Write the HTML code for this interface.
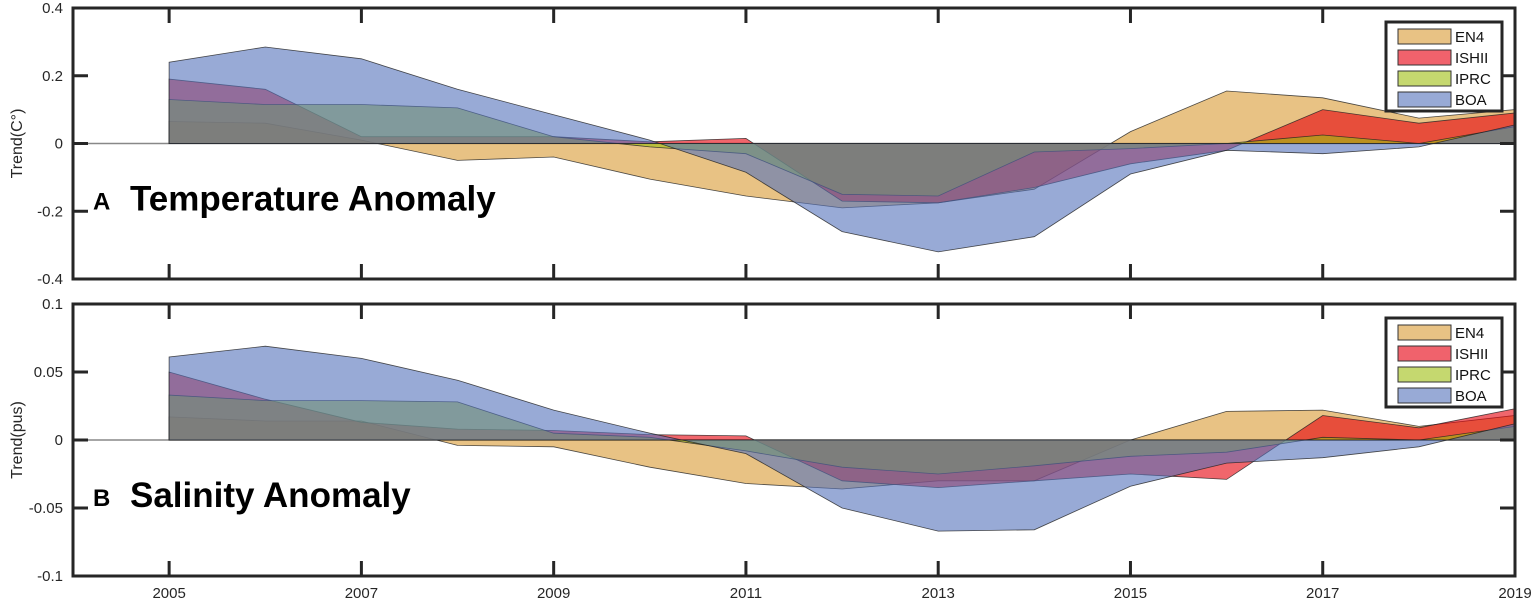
<!DOCTYPE html>
<html><head><meta charset="utf-8">
<style>
html,body{margin:0;padding:0;background:#fff;}
svg{display:block;font-family:"Liberation Sans",Arial,sans-serif;}
</style></head>
<body>
<svg id="chart" width="1535" height="604" viewBox="0 0 1535 604" xmlns="http://www.w3.org/2000/svg"></svg>
<script>
const years = [2005,2006,2007,2008,2009,2010,2011,2012,2013,2014,2015,2016,2017,2018,2019];
const seriesNames = ["EN4","ISHII","IPRC","BOA"];
const tempEN4   = [0.065,0.06,0.01,-0.05,-0.04,-0.105,-0.155,-0.19,-0.175,-0.135,0.035,0.155,0.135,0.075,0.1];
const tempISHII = [0.19,0.16,0.02,0.02,0.02,0.005,0.015,-0.17,-0.175,-0.13,-0.06,-0.02,0.1,0.06,0.09];
const tempIPRC  = [0.13,0.115,0.115,0.105,0.02,-0.01,-0.03,-0.15,-0.155,-0.025,-0.015,0,0.025,0,0.05];
const tempBOA   = [0.24,0.285,0.25,0.16,0.085,0.01,-0.085,-0.26,-0.32,-0.275,-0.09,-0.02,-0.03,-0.01,0.055];
const salEN4   = [0.017,0.014,0.014,-0.004,-0.005,-0.02,-0.032,-0.036,-0.03,-0.03,0.0,0.021,0.022,0.01,0.018];
const salISHII = [0.05,0.03,0.013,0.008,0.007,0.004,0.003,-0.03,-0.035,-0.03,-0.025,-0.029,0.018,0.009,0.023];
const salIPRC  = [0.033,0.029,0.029,0.028,0.005,0.002,-0.008,-0.02,-0.025,-0.019,-0.012,-0.009,0.002,0,0.01];
const salBOA   = [0.061,0.069,0.06,0.044,0.022,0.005,-0.01,-0.05,-0.067,-0.066,-0.034,-0.017,-0.013,-0.005,0.012];
const tempTicks = [0.4,0.2,0,-0.2,-0.4];
const tempTickLabels = ["0.4","0.2","0","-0.2","-0.4"];
const salTicks = [0.1,0.05,0,-0.05,-0.1];
const salTickLabels = ["0.1","0.05","0","-0.05","-0.1"];
const xTicks = [2005,2007,2009,2011,2013,2015,2017,2019];

const NS="http://www.w3.org/2000/svg";
const svg=document.getElementById('chart');
const fills=["rgba(217,153,50,0.6)","rgba(230,0,10,0.6)","rgba(158,190,15,0.6)","rgba(83,113,187,0.6)"];
const legendFills=["#e8c284","#f0626c","#c5d86f","#98aad6"];
const X0=73,X1=1515;
function xs(yr){return X0+(yr-2004)/(2019-2004)*(X1-X0);}
function mk(tag,attrs,parent){const e=document.createElementNS(NS,tag);for(const k in attrs)e.setAttribute(k,attrs[k]);(parent||svg).appendChild(e);return e;}

function panel(id,top,bottom,ymax,data,ticks,tickLabels,ylabel,letter,title,showX){
  const g=mk('g',{});
  
  
  const ys=v=>top+(ymax-v)/(2*ymax)*(bottom-top);
  const y0=ys(0);
  mk('line',{x1:X0,y1:y0,x2:X1,y2:y0,stroke:'#888','stroke-width':1.5},g);
  data.forEach((arr,i)=>{
    let d='M'+xs(years[0])+','+y0;
    arr.forEach((v,j)=>{d+=' L'+xs(years[j]).toFixed(1)+','+ys(v).toFixed(1);});
    d+=' L'+xs(years[years.length-1])+','+y0+' Z';
    const p=mk('path',{d:d,fill:fills[i],stroke:'#222','stroke-width':0.8,'stroke-opacity':0.8},g);
    
    
  });
  mk('rect',{x:X0,y:top,width:X1-X0,height:bottom-top,fill:'none',stroke:'#262626','stroke-width':3},g);
  ticks.forEach((t,i)=>{
    const y=ys(t);
    mk('line',{x1:X0,y1:y,x2:X0+15,y2:y,stroke:'#262626','stroke-width':3},g);
    mk('line',{x1:X1-15,y1:y,x2:X1,y2:y,stroke:'#262626','stroke-width':3},g);
    const tx=mk('text',{x:X0-10,y:y+5,'text-anchor':'end','font-size':15,fill:'#262626'},g);
    tx.textContent=tickLabels[i];
    
    
  });
  xTicks.forEach(t=>{
    const x=xs(t);
    mk('line',{x1:x,y1:bottom,x2:x,y2:bottom-15,stroke:'#262626','stroke-width':3},g);
    mk('line',{x1:x,y1:top,x2:x,y2:top+15,stroke:'#262626','stroke-width':3},g);
    if(showX){
      const tx=mk('text',{x:x,y:bottom+22,'text-anchor':'middle','font-size':15,fill:'#262626'},g);
      tx.textContent=t;
      
      
    }
  });
  const yl=mk('text',{x:0,y:0,transform:'translate(22,'+((top+bottom)/2)+') rotate(-90)','text-anchor':'middle','font-size':16,fill:'#262626'},g);
  yl.textContent=ylabel;
  
  
  const lt=mk('text',{x:93,y:y0+66,'font-size':24,'font-weight':'bold',fill:'#000'},g);
  lt.textContent=letter;
  
  
  const tt=mk('text',{x:130,y:y0+67,'font-size':35,'font-weight':'bold',fill:'#000'},g);
  tt.textContent=title;
  
  
  const lg=mk('g',{},g);
  
  
  const ly=top+14;
  mk('rect',{x:1386,y:ly,width:116,height:89,fill:'#fff',stroke:'#262626','stroke-width':3},lg);
  seriesNames.forEach((n,i)=>{
    const e=mk('g',{},lg);
    
    
    mk('rect',{x:1398,y:ly+7+i*21,width:53,height:15,fill:legendFills[i],stroke:'#333','stroke-width':1},e);
    const t=mk('text',{x:1455,y:ly+20+i*21,'font-size':15,fill:'#111'},e);
    t.textContent=n;
  });
}
panel('temperature-panel',8,279,0.4,[tempEN4,tempISHII,tempIPRC,tempBOA],tempTicks,tempTickLabels,'Trend(C°)','A','Temperature Anomaly',false);
panel('salinity-panel',304,576,0.1,[salEN4,salISHII,salIPRC,salBOA],salTicks,salTickLabels,'Trend(pus)','B','Salinity Anomaly',true);
</script>
</body></html>
